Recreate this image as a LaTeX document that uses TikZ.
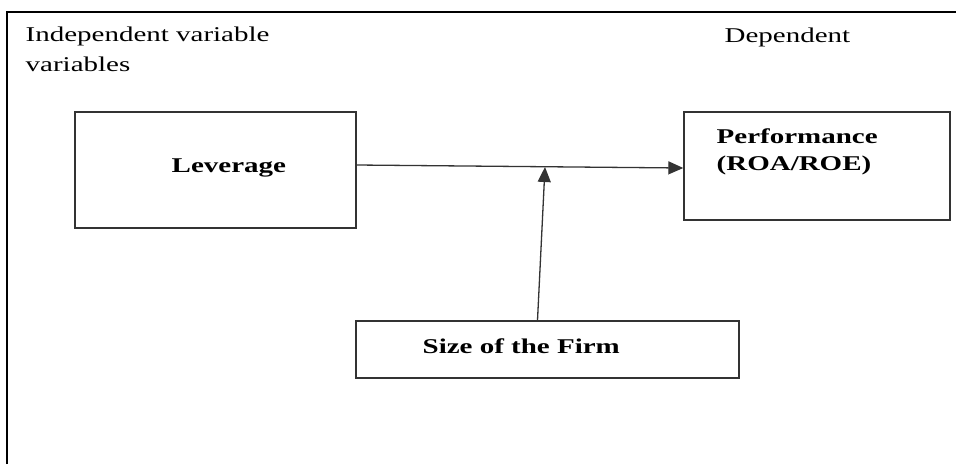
\documentclass[tikz,border=0pt]{standalone}
\usepackage{fontspec}
\setmainfont[FakeStretch=1.38]{Liberation Serif}
\usetikzlibrary{arrows.meta}

\begin{document}
\begin{tikzpicture}
    [x=1pt,y=-1pt,line width=1.4pt,
     box/.style={draw=black!80, inner sep=0pt},
     txt/.style={inner sep=0pt, anchor=base west, align=left, font=\fontsize{21}{30}\selectfont},
     btxt/.style={txt, font=\fontsize{21}{27}\selectfont\bfseries},
     arr/.style={black!80, line width=1.3pt, -{Triangle[length=15pt,width=13pt]}}]
  \useasboundingbox (0,0) rectangle (956,464);
  \draw (7,464) -- (7,12) -- (956,12);

  \node[txt] (indep) at (25,71) {Independent variable\\variables};
  \node[txt] (dep) at (724,42) {Dependent};

  \node[box, minimum width=281, minimum height=116] (lev) at (215.5,170) {};
  \node[box, minimum width=266, minimum height=108] (perf) at (817,166) {};
  \node[box, minimum width=383, minimum height=57] (size) at (547.5,349.5) {};

  \node[btxt] (levtext) at (171,172) {Leverage};
  \node[btxt] (perftext) at (716,170) {Performance\\(ROA/ROE)};
  \node[btxt] (sizetext) at (422,353) {Size of the Firm};

  \coordinate (mod) at (545,167);
  \draw[arr] ([yshift=5pt]lev.east) -- ([yshift=-2pt]perf.west);
  \draw[arr] ([xshift=-10pt]size.north) -- (mod);
\end{tikzpicture}
\end{document}
